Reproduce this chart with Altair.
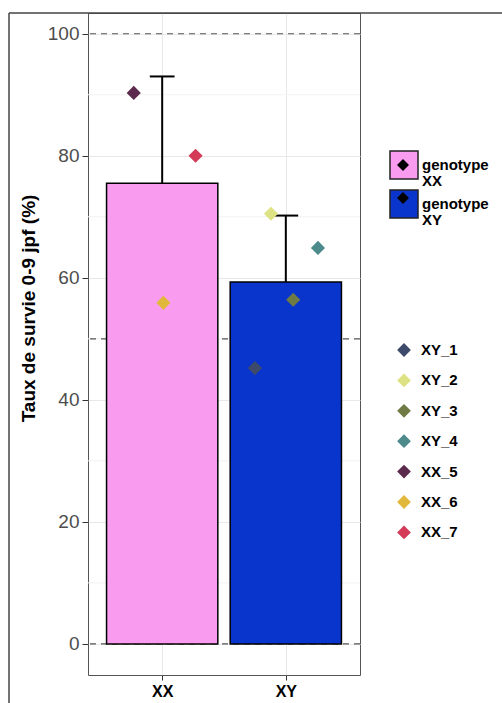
import altair as alt
import pandas as pd

# ---- data ----
genotypes = ["XX", "XY"]
geno_pos = [1, 2]
means = [75.5, 59.3]
upper = [93.0, 70.2]
bar_colors = ["#f99cf0", "#0a35cc"]

point_ids = ["XX_5", "XX_6", "XX_7", "XY_1", "XY_2", "XY_3", "XY_4"]
point_geno = ["XX", "XX", "XX", "XY", "XY", "XY", "XY"]
point_vals = [90.3, 55.9, 80.0, 45.2, 70.5, 56.4, 64.9]
point_jitter = [-0.23, 0.01, 0.27, -0.25, -0.12, 0.06, 0.26]
legend_order = ["XY_1", "XY_2", "XY_3", "XY_4", "XX_5", "XX_6", "XX_7"]
point_colors = ["#3e4a6a", "#dde284", "#6f7b45", "#4c8a8c", "#5b2a4d", "#e2b83c", "#d33b57"]

y_ticks = [0, 20, 40, 60, 80, 100]
minor_ticks = [10, 30, 50, 70, 90]
hlines = [0, 50, 100]

FONT = "Liberation Sans"

bars_df = pd.DataFrame({"genotype": genotypes, "pos": geno_pos, "mean": means,
                        "upper": upper, "gkey": genotypes})
pts_df = pd.DataFrame({"id": point_ids, "genotype": point_geno, "val": point_vals,
                       "jit": point_jitter})
pts_df["pos"] = pts_df["genotype"].map(dict(zip(genotypes, geno_pos)))

label_expr = " : ".join(
    [f"datum.value == {p} ? '{g}'" for p, g in zip(geno_pos, genotypes)]) + " : ''"

xscale = alt.Scale(domain=[0.4, 2.6], nice=False, zero=False)
yscale = alt.Scale(domain=[-5.1, 103.4], nice=False, zero=False)

xaxis = alt.Axis(values=geno_pos, labelExpr=label_expr, title=None, grid=True,
                 gridColor="#e8e8e8", labelFontWeight="bold", labelFontSize=16,
                 labelColor="black", labelFont=FONT, tickSize=5, tickColor="#333",
                 domain=False, labelPadding=3)
yaxis = alt.Axis(values=y_ticks, title="Taux de survie 0-9 jpf (%)", grid=True,
                 gridColor="#e8e8e8", labelFontSize=19, labelColor="#4d4d4d",
                 labelFont=FONT, tickSize=6, tickColor="#333", domain=False,
                 labelPadding=3, titleFont=FONT, titleFontSize=19,
                 titleFontWeight="bold", titleColor="black",
                 titleX=-60, titleY=295, titleAngle=270, titleBaseline="middle",
                 titleAlign="center")

minor = alt.Chart(pd.DataFrame({"y": minor_ticks})).mark_rule(
    color="#f2f2f2", strokeWidth=1).encode(
    y=alt.Y("y:Q", scale=yscale, axis=yaxis))

dashed = alt.Chart(pd.DataFrame({"y": hlines})).mark_rule(
    color="#555", strokeWidth=1.2, strokeDash=[6, 5]).encode(
    y=alt.Y("y:Q", scale=yscale))

bars = alt.Chart(bars_df).transform_calculate(
    lo="datum.pos - 0.45", hi="datum.pos + 0.45", zero="0").mark_rect(
    stroke="black", strokeWidth=1.5).encode(
    x=alt.X("lo:Q", scale=xscale, axis=xaxis), x2="hi:Q",
    y=alt.Y("zero:Q", scale=yscale), y2="mean:Q",
    fill=alt.Fill("genotype:N",
                  scale=alt.Scale(domain=genotypes, range=bar_colors),
                  legend=alt.Legend(orient="none", legendX=301, legendY=137,
                                    title=None, symbolType="square",
                                    symbolSize=784, symbolStrokeColor="#222",
                                    symbolStrokeWidth=1.5, symbolOpacity=1,
                                    labelExpr="['genotype', datum.label]",
                                    labelFont=FONT, labelFontSize=15,
                                    labelFontWeight="bold", labelColor="black",
                                    labelOffset=3, rowPadding=-12, padding=0)))

overlay = alt.Chart(bars_df).mark_point(
    filled=True, opacity=0, color="black", shape="diamond").encode(
    x=alt.X("pos:Q", scale=xscale), y=alt.Y("mean:Q", scale=yscale),
    shape=alt.Shape("gkey:N",
                    scale=alt.Scale(range=["diamond", "diamond"]),
                    legend=alt.Legend(orient="none", legendX=309, legendY=146,
                                      title=None, symbolSize=144,
                                      symbolFillColor="black",
                                      symbolStrokeColor="black",
                                      symbolStrokeWidth=0,
                                      symbolOpacity=1,
                                      labelExpr="''", labelFontSize=1,
                                      labelOffset=0, rowPadding=21, padding=0)))

err = alt.Chart(bars_df).mark_rule(color="black", strokeWidth=2).encode(
    x=alt.X("pos:Q", scale=xscale), y=alt.Y("mean:Q", scale=yscale), y2="upper:Q")

cap = alt.Chart(bars_df).transform_calculate(
    c0="datum.pos - 0.1", c1="datum.pos + 0.1").mark_rule(
    color="black", strokeWidth=2).encode(
    x=alt.X("c0:Q", scale=xscale), x2="c1:Q", y=alt.Y("upper:Q", scale=yscale))

points = alt.Chart(pts_df).transform_calculate(
    px="datum.pos + datum.jit").mark_point(
    shape="diamond", filled=True, size=200, opacity=1).encode(
    x=alt.X("px:Q", scale=xscale), y=alt.Y("val:Q", scale=yscale),
    color=alt.Color("id:N",
                    scale=alt.Scale(domain=legend_order, range=point_colors),
                    legend=alt.Legend(orient="none", legendX=308, legendY=329,
                                      title=None, symbolType="diamond",
                                      symbolSize=190, symbolOpacity=1,
                                      labelFont=FONT, labelFontSize=15,
                                      labelFontWeight="bold", labelColor="black",
                                      labelOffset=9, rowPadding=14.4, padding=0)))

frame_top = alt.Chart(pd.DataFrame({"k": [0]})).mark_rule(
    color="#444", strokeWidth=1.5).encode(
    x=alt.value(-79), x2=alt.value(414), y=alt.value(0))
frame_left = alt.Chart(pd.DataFrame({"k": [0]})).mark_rule(
    color="#444", strokeWidth=1.5).encode(
    x=alt.value(-79), y=alt.value(0), y2=alt.value(690))

chart = alt.layer(minor, dashed, bars, err, cap, points, overlay,
                  frame_top, frame_left).properties(
    width=272, height=662,
    autosize=alt.AutoSizeParams(type="none"),
    padding={"left": 88, "top": 13, "right": 142, "bottom": 28},
    background="white",
).configure(
    style={"guide-label": {"lineHeight": 16}}
).configure_view(stroke="#555", strokeWidth=1)

chart.save("out.html", embed_options={"renderer": "svg", "actions": False})
